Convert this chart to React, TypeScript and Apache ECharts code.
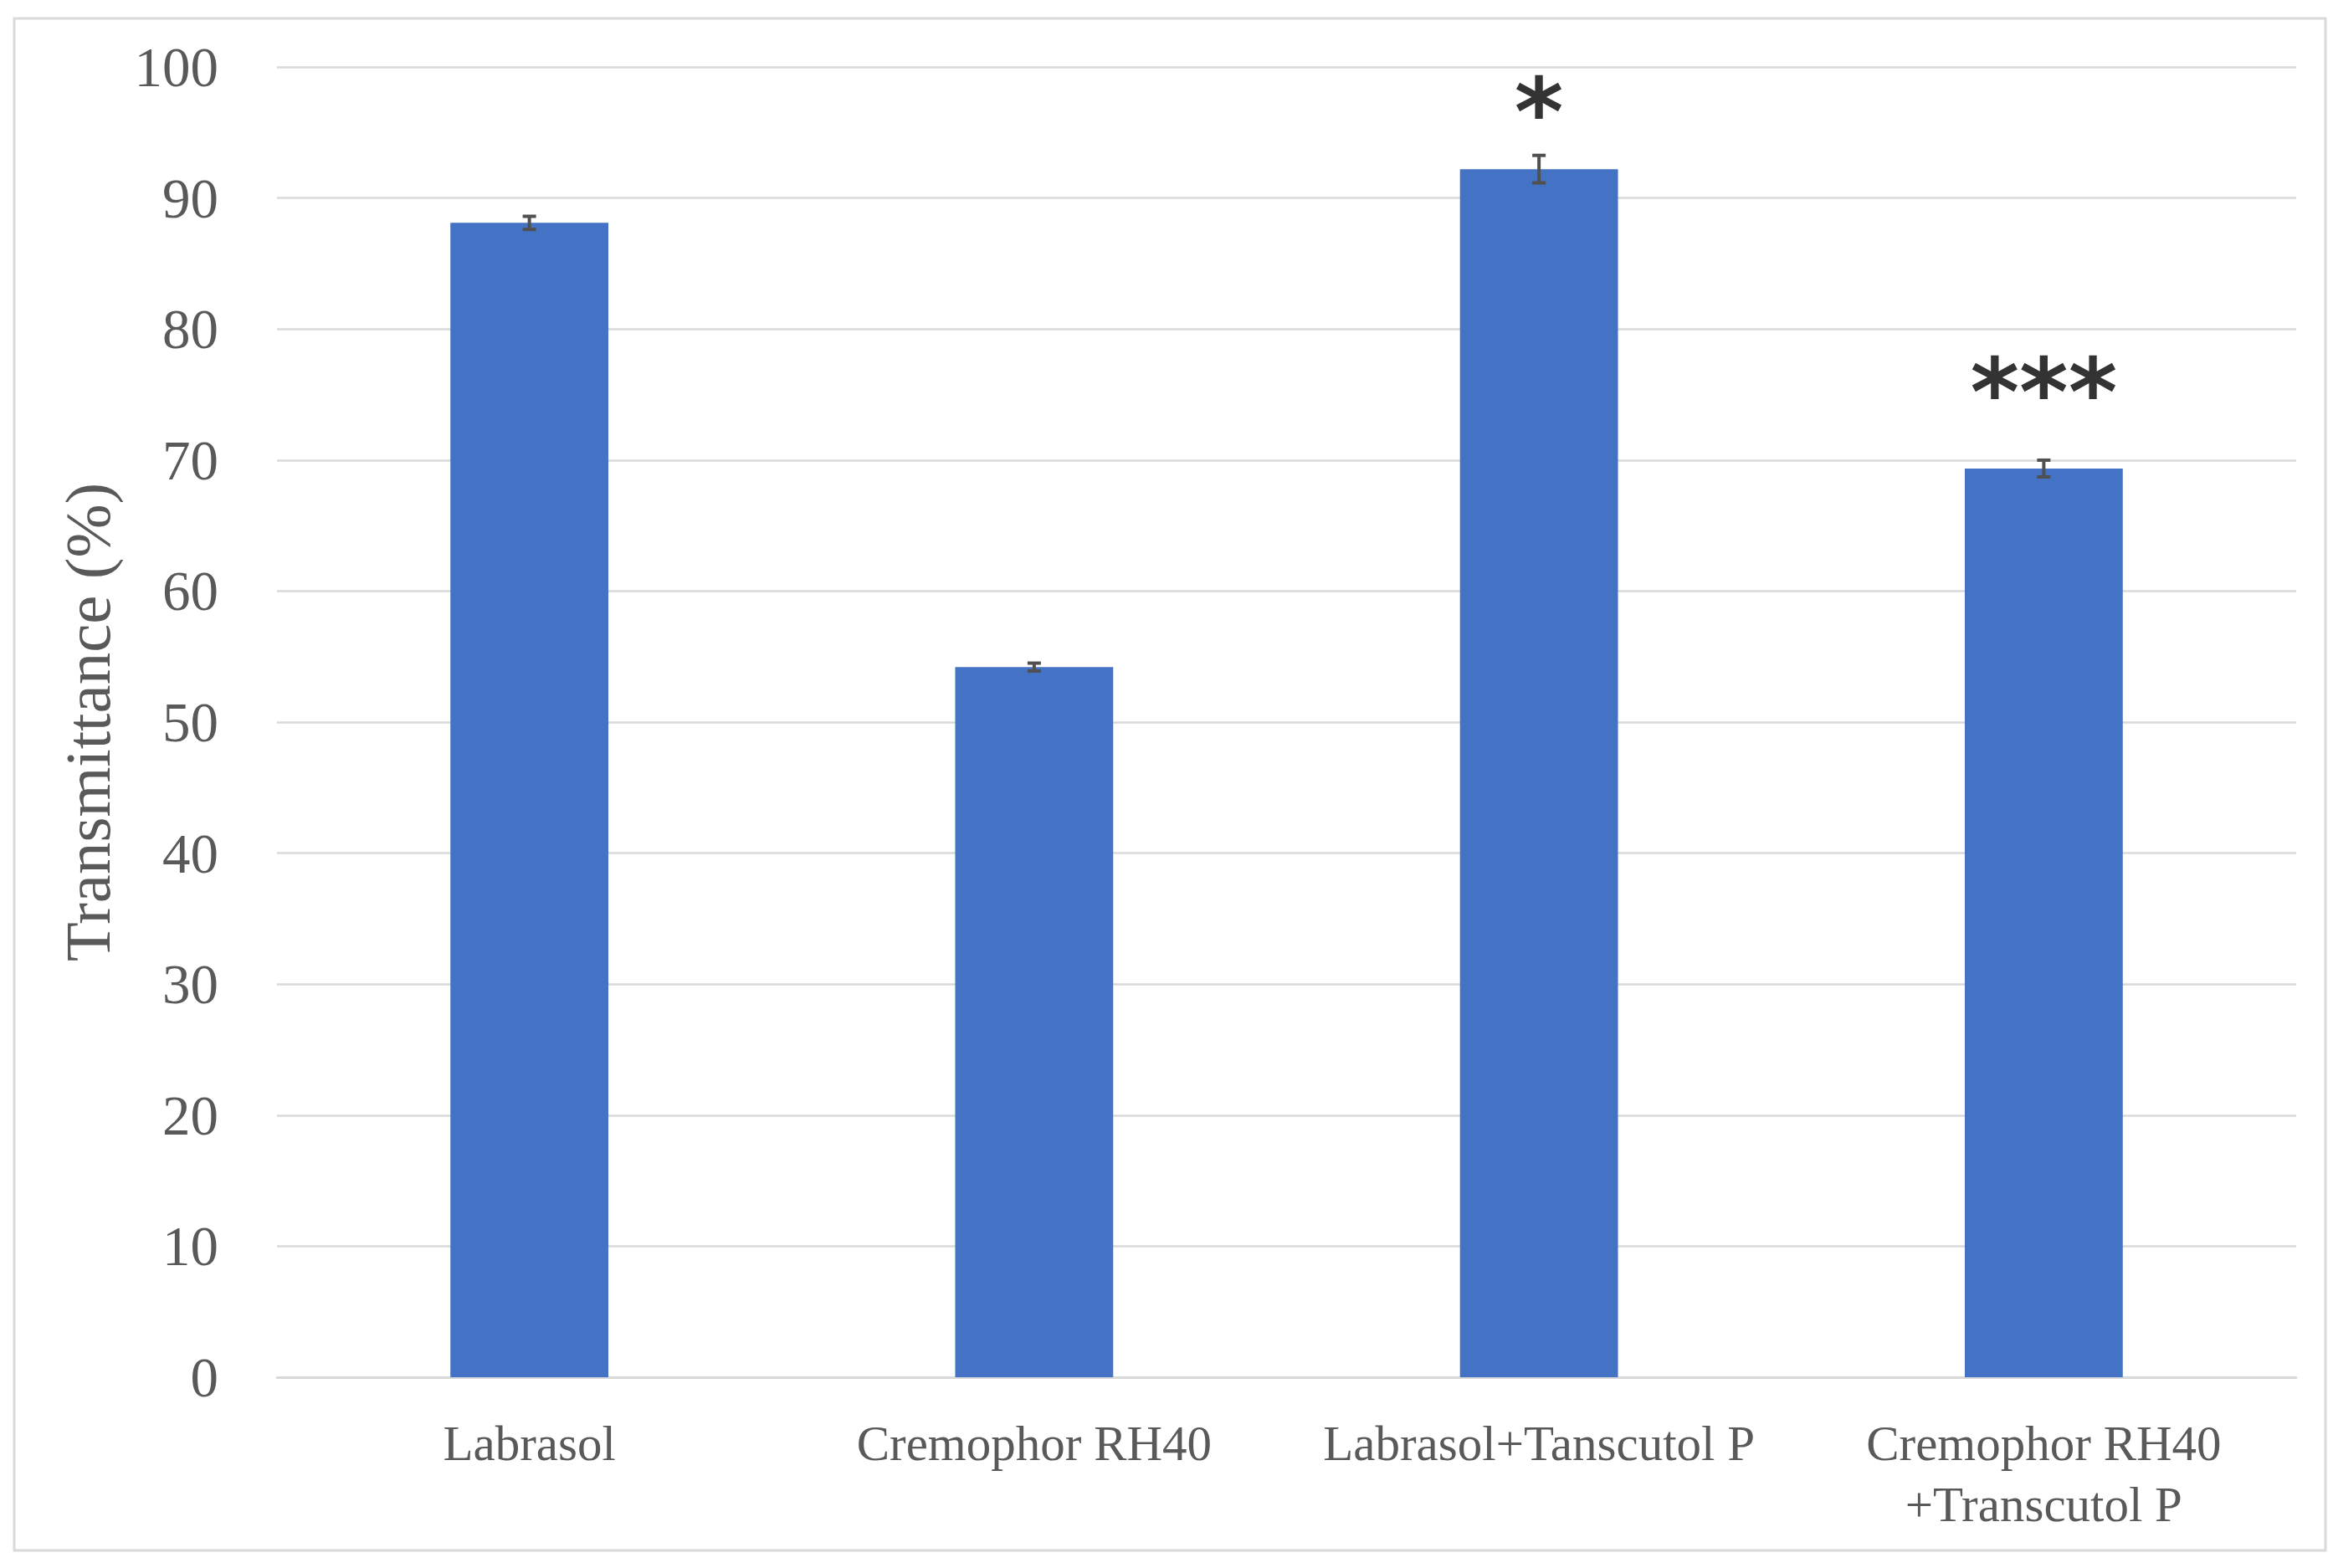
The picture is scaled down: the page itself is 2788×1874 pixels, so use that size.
import React, { useEffect, useRef } from "react";
import * as echarts from "echarts";

const categories = [
  "Labrasol",
  "Cremophor RH40",
  "Labrasol+Tanscutol P",
  "Cremophor RH40\n+Transcutol P",
];
const transmittance = [88.1, 54.2, 92.2, 69.35];
const errors = [0.5, 0.3, 1.05, 0.64];
const sigLabels = ["", "", "*", "***"];
const sigY: (number | null)[] = [null, null, 98.1, 76.7];
const yTicks = { min: 0, max: 100, interval: 10 };

const GRAY = "#595959";
const GRID = "#d9d9d9";
const SERIF = "'Liberation Serif', 'DejaVu Serif', serif";

export default function App() {
  const ref = useRef<HTMLDivElement>(null);

  useEffect(() => {
    if (!ref.current) return;
    const chart = echarts.init(ref.current, null, { renderer: "svg" });

    const errData = transmittance.map((v, i) => [i, v - errors[i], v + errors[i]]);
    const sigData = sigY
      .map((y, i) => (y == null ? null : { value: [i, y], label: sigLabels[i] }))
      .filter((d) => d != null);

    chart.setOption({
      animation: false,
      backgroundColor: "#ffffff",
      grid: { left: 331, right: 44, top: 80, bottom: 228, containLabel: false },
      graphic: [
        {
          type: "rect",
          shape: { x: 17, y: 22, width: 2762, height: 1831 },
          style: { fill: "none", stroke: GRID, lineWidth: 3 },
          silent: true,
        },
      ],
      xAxis: {
        type: "category",
        data: categories,
        axisLine: { show: true, lineStyle: { color: GRID, width: 3 } },
        axisTick: { show: false },
        axisLabel: {
          color: GRAY,
          fontFamily: SERIF,
          fontSize: 59,
          lineHeight: 73,
          margin: 42,
          interval: 0,
        },
      },
      yAxis: {
        type: "value",
        min: yTicks.min,
        max: yTicks.max,
        interval: yTicks.interval,
        name: "Transmittance (%)",
        nameLocation: "middle",
        nameRotate: 90,
        nameGap: 188,
        nameTextStyle: { color: GRAY, fontFamily: SERIF, fontSize: 77 },
        axisLine: { show: false },
        axisTick: { show: false },
        axisLabel: { color: GRAY, fontFamily: SERIF, fontSize: 67, margin: 70 },
        splitLine: { show: true, lineStyle: { color: GRID, width: 2.5 } },
      },
      series: [
        {
          type: "bar",
          data: transmittance,
          barWidth: "31.3%",
          itemStyle: { color: "#4472C4" },
        },
        {
          type: "custom",
          data: errData,
          z: 10,
          renderItem: (params: any, api: any) => {
            const i = api.value(0);
            const lo = api.coord([i, api.value(1)]);
            const hi = api.coord([i, api.value(2)]);
            const hw = 8;
            const style = { stroke: "#505050", lineWidth: 4 };
            return {
              type: "group",
              children: [
                { type: "line", shape: { x1: lo[0], y1: lo[1], x2: hi[0], y2: hi[1] }, style },
                { type: "line", shape: { x1: lo[0] - hw, y1: lo[1], x2: lo[0] + hw, y2: lo[1] }, style },
                { type: "line", shape: { x1: hi[0] - hw, y1: hi[1], x2: hi[0] + hw, y2: hi[1] }, style },
              ],
            };
          },
        },
        {
          type: "scatter",
          data: sigData,
          symbolSize: 0,
          z: 11,
          label: {
            show: true,
            position: "inside",
            offset: [0, 24],
            formatter: (p: any) => p.data.label,
            color: "#000000",
            fontFamily: "'DejaVu Sans', sans-serif",
            fontWeight: "bold",
            fontSize: 112,
          },
        },
      ],
    });

    return () => chart.dispose();
  }, []);

  return (
    <div
      ref={ref}
      style={{ position: "absolute", left: 0, top: 0, width: 2788, height: 1874, background: "#fff" }}
    />
  );
}
